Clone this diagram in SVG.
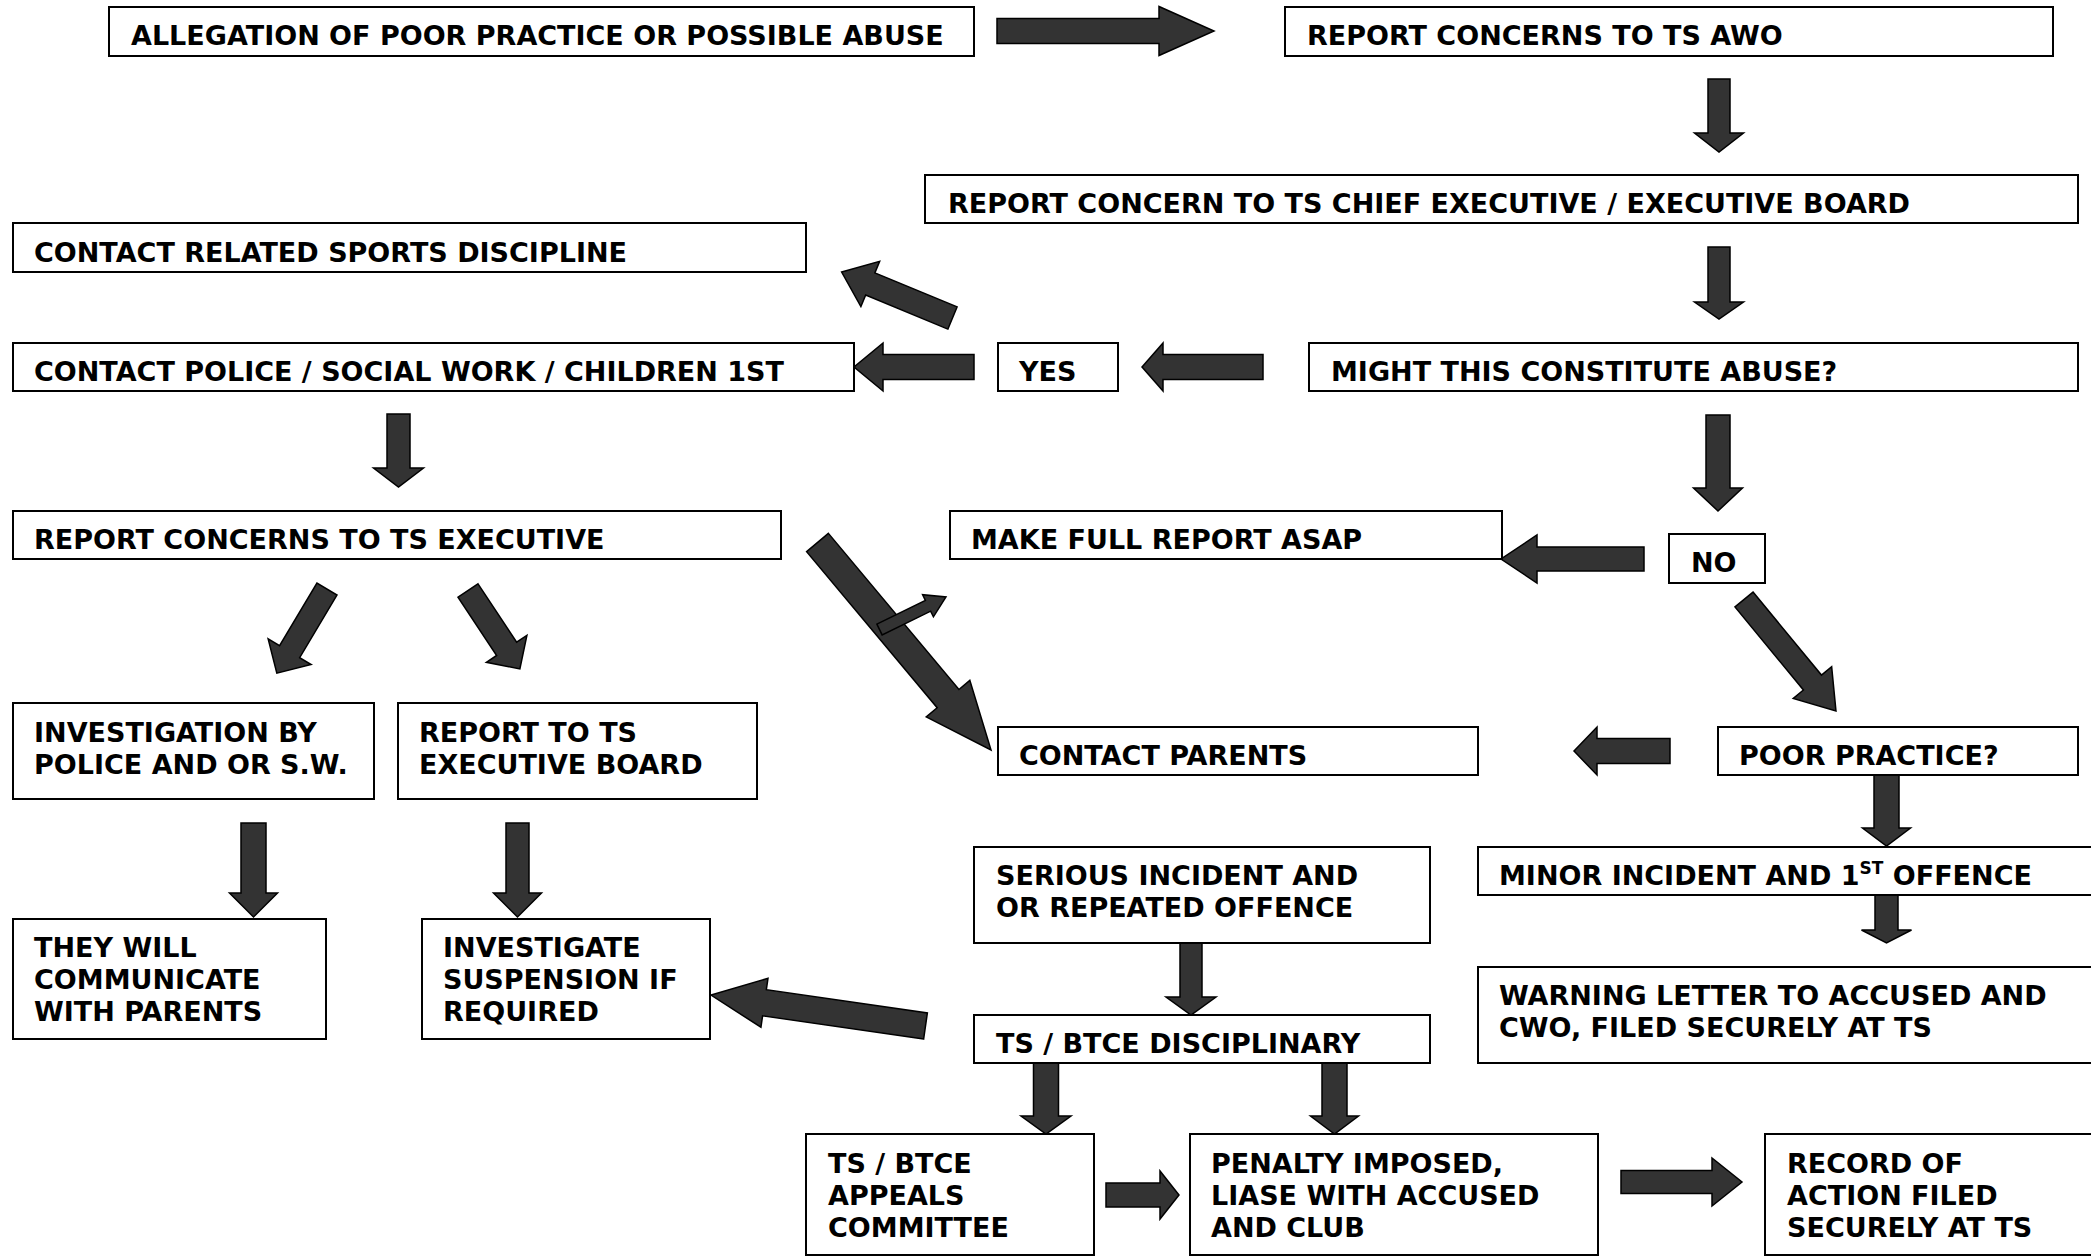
<svg xmlns="http://www.w3.org/2000/svg" width="2091" height="1256" viewBox="0 0 2091 1256">
<style>
.box{fill:#fff;stroke:#000;stroke-width:2}
.t{font-family:"DejaVu Sans","Verdana",sans-serif;font-weight:bold;font-size:27px;fill:#000}
.sup{font-size:17px}
.arr{fill:#333;stroke:#000;stroke-width:1.5;stroke-linejoin:miter}
</style>
<rect width="2091" height="1256" fill="#fff"/>
<g id="connectors">
<polygon class="arr" transform="translate(997,31)" points="0,-12.5 162,-12.5 162,-24.5 217,0 162,24.5 162,12.5 0,12.5"/>
<polygon class="arr" transform="translate(1719,79) rotate(90)" points="0,-11 54,-11 54,-24.5 73,0 54,24.5 54,11 0,11"/>
<polygon class="arr" transform="translate(1719,247) rotate(90)" points="0,-11 55,-11 55,-24.5 72,0 55,24.5 55,11 0,11"/>
<polygon class="arr" transform="translate(1263,367) rotate(180)" points="0,-12.5 100,-12.5 100,-24 121,0 100,24 100,12.5 0,12.5"/>
<polygon class="arr" transform="translate(974,367) rotate(180)" points="0,-12.5 91,-12.5 91,-24 120,0 91,24 91,12.5 0,12.5"/>
<polygon class="arr" transform="translate(952.5,318) rotate(202.5)" points="0,-12 89,-12 89,-24.5 120,0 89,24.5 89,12 0,12"/>
<polygon class="arr" transform="translate(398.5,414) rotate(90)" points="0,-11.5 54,-11.5 54,-25 73,0 54,25 54,11.5 0,11.5"/>
<polygon class="arr" transform="translate(327,589) rotate(120.8)" points="0,-11.7 73,-11.7 73,-25 98,0 73,25 73,11.7 0,11.7"/>
<polygon class="arr" transform="translate(468,590.5) rotate(56.5)" points="0,-12 70,-12 70,-24.3 94,0 70,24.3 70,12 0,12"/>
<polygon class="arr" transform="translate(817.5,542.5) rotate(50.1)" points="0,-14.2 203.5,-14.2 203.5,-28.4 270.5,0 203.5,28.4 203.5,14.2 0,14.2"/>
<polygon class="arr" transform="translate(879.5,629.5) rotate(-26.05)" points="0,-6 54,-6 54,-12.3 74,0 54,12.3 54,6 0,6"/>
<polygon class="arr" transform="translate(1644,559) rotate(180)" points="0,-12 107,-12 107,-24 143,0 107,24 107,12 0,12"/>
<polygon class="arr" transform="translate(1718,415) rotate(90)" points="0,-12 73,-12 73,-24.5 96,0 73,24.5 73,12 0,12"/>
<polygon class="arr" transform="translate(1744,599.5) rotate(50.5)" points="0,-11.7 107.6,-11.7 107.6,-24.9 144.6,0 107.6,24.9 107.6,11.7 0,11.7"/>
<polygon class="arr" transform="translate(1670,751) rotate(180)" points="0,-12.5 73,-12.5 73,-24 96,0 73,24 73,12.5 0,12.5"/>
<polygon class="arr" transform="translate(1886.5,775) rotate(90)" points="0,-12.5 53,-12.5 53,-24 71,0 53,24 53,12.5 0,12.5"/>
<polygon class="arr" transform="translate(1886.5,895) rotate(90)" points="0,-11.5 35,-11.5 35,-25 48,0 35,25 35,11.5 0,11.5"/>
<polygon class="arr" transform="translate(1191,943) rotate(90)" points="0,-11 54,-11 54,-25 72,0 54,25 54,11 0,11"/>
<polygon class="arr" transform="translate(925.5,1026) rotate(188.2)" points="0,-13.2 162.7,-13.2 162.7,-24.7 216.7,0 162.7,24.7 162.7,13.2 0,13.2"/>
<polygon class="arr" transform="translate(1046,1063) rotate(90)" points="0,-12.5 53,-12.5 53,-25 71,0 53,25 53,12.5 0,12.5"/>
<polygon class="arr" transform="translate(1334.5,1063) rotate(90)" points="0,-12.5 53,-12.5 53,-24 71,0 53,24 53,12.5 0,12.5"/>
<polygon class="arr" transform="translate(1106,1195)" points="0,-12 54,-12 54,-24 73,0 54,24 54,12 0,12"/>
<polygon class="arr" transform="translate(1621,1182)" points="0,-11.5 91,-11.5 91,-24 121,0 91,24 91,11.5 0,11.5"/>
<polygon class="arr" transform="translate(253.5,823) rotate(90)" points="0,-12.5 70,-12.5 70,-24 94,0 70,24 70,12.5 0,12.5"/>
<polygon class="arr" transform="translate(517.5,823) rotate(90)" points="0,-11.5 70,-11.5 70,-24 94,0 70,24 70,11.5 0,11.5"/>
</g>
<g id="n-allegation"><rect class="box" x="109" y="7" width="865" height="49"/><text class="t" x="131" y="45">ALLEGATION OF POOR PRACTICE OR POSSIBLE ABUSE</text></g>
<g id="n-awo"><rect class="box" x="1285" y="7" width="768" height="49"/><text class="t" x="1307" y="45">REPORT CONCERNS TO TS AWO</text></g>
<g id="n-chief"><rect class="box" x="925" y="175" width="1153" height="48"/><text class="t" x="948" y="213">REPORT CONCERN TO TS CHIEF EXECUTIVE / EXECUTIVE BOARD</text></g>
<g id="n-sports"><rect class="box" x="13" y="223" width="793" height="49"/><text class="t" x="34" y="262">CONTACT RELATED SPORTS DISCIPLINE</text></g>
<g id="n-police"><rect class="box" x="13" y="343" width="841" height="48"/><text class="t" x="34" y="381">CONTACT POLICE / SOCIAL WORK / CHILDREN 1ST</text></g>
<g id="n-yes"><rect class="box" x="998" y="343" width="120" height="48"/><text class="t" x="1019" y="381">YES</text></g>
<g id="n-might"><rect class="box" x="1309" y="343" width="769" height="48"/><text class="t" x="1331" y="381">MIGHT THIS CONSTITUTE ABUSE?</text></g>
<g id="n-tsexec"><rect class="box" x="13" y="511" width="768" height="48"/><text class="t" x="34" y="549">REPORT CONCERNS TO TS EXECUTIVE</text></g>
<g id="n-make"><rect class="box" x="950" y="511" width="552" height="48"/><text class="t" x="971" y="549">MAKE FULL REPORT ASAP</text></g>
<g id="n-no"><rect class="box" x="1669" y="534" width="96" height="49"/><text class="t" x="1691" y="572">NO</text></g>
<g id="n-parents"><rect class="box" x="998" y="727" width="480" height="48"/><text class="t" x="1019" y="765">CONTACT PARENTS</text></g>
<g id="n-poor"><rect class="box" x="1718" y="727" width="360" height="48"/><text class="t" x="1739" y="765">POOR PRACTICE?</text></g>
<g id="n-minor"><rect class="box" x="1478" y="847" width="640" height="48"/><text class="t" x="1499" y="885">MINOR INCIDENT AND 1<tspan class="sup" dy="-11">ST</tspan><tspan dy="11"> OFFENCE</tspan></text></g>
<g id="n-warning"><rect class="box" x="1478" y="967" width="640" height="96"/><text class="t" x="1499" y="1005">WARNING LETTER TO ACCUSED AND</text><text class="t" x="1499" y="1037">CWO, FILED SECURELY AT TS</text></g>
<g id="n-serious"><rect class="box" x="974" y="847" width="456" height="96"/><text class="t" x="996" y="885">SERIOUS INCIDENT AND</text><text class="t" x="996" y="917">OR REPEATED OFFENCE</text></g>
<g id="n-disciplinary"><rect class="box" x="974" y="1015" width="456" height="48"/><text class="t" x="996" y="1053">TS / BTCE DISCIPLINARY</text></g>
<g id="n-appeals"><rect class="box" x="806" y="1134" width="288" height="121"/><text class="t" x="828" y="1173">TS / BTCE</text><text class="t" x="828" y="1205">APPEALS</text><text class="t" x="828" y="1237">COMMITTEE</text></g>
<g id="n-penalty"><rect class="box" x="1190" y="1134" width="408" height="121"/><text class="t" x="1211" y="1173">PENALTY IMPOSED,</text><text class="t" x="1211" y="1205">LIASE WITH ACCUSED</text><text class="t" x="1211" y="1237">AND CLUB</text></g>
<g id="n-record"><rect class="box" x="1765" y="1134" width="340" height="121"/><text class="t" x="1787" y="1173">RECORD OF</text><text class="t" x="1787" y="1205">ACTION FILED</text><text class="t" x="1787" y="1237">SECURELY AT TS</text></g>
<g id="n-investigation"><rect class="box" x="13" y="703" width="361" height="96"/><text class="t" x="34" y="742">INVESTIGATION BY</text><text class="t" x="34" y="774">POLICE AND OR S.W.</text></g>
<g id="n-reportboard"><rect class="box" x="398" y="703" width="359" height="96"/><text class="t" x="419" y="742">REPORT TO TS</text><text class="t" x="419" y="774">EXECUTIVE BOARD</text></g>
<g id="n-theywill"><rect class="box" x="13" y="919" width="313" height="120"/><text class="t" x="34" y="957">THEY WILL</text><text class="t" x="34" y="989">COMMUNICATE</text><text class="t" x="34" y="1021">WITH PARENTS</text></g>
<g id="n-investigate"><rect class="box" x="422" y="919" width="288" height="120"/><text class="t" x="443" y="957">INVESTIGATE</text><text class="t" x="443" y="989">SUSPENSION IF</text><text class="t" x="443" y="1021">REQUIRED</text></g>
</svg>
